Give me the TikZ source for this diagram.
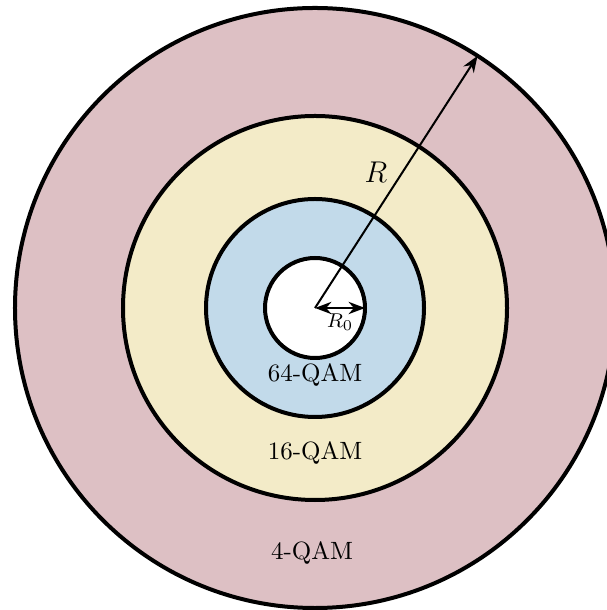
\documentclass[tikz,border=0pt]{standalone}
\usepackage{amsmath}
\usetikzlibrary{arrows.meta}
\definecolor{qamfour}{RGB}{221,192,196}
\definecolor{qamsixteen}{RGB}{243,235,200}
\definecolor{qamsixtyfour}{RGB}{194,218,234}

\begin{document}
\begin{tikzpicture}[x=0.4pt,y=0.4pt]
    \useasboundingbox (-315,-302) rectangle (291,308);
    \coordinate (O) at (0,0);
    % Rings, outer to inner
    \foreach \r/\col in {300/qamfour, 192/qamsixteen, 109/qamsixtyfour, 50/white} {
      \filldraw[fill=\col, draw=black, line width=1.6pt] (O) circle (\r);
    }
    % Radii
    \coordinate (Rend) at (57.2:300);
    \coordinate (Rzero) at (50,0);
    \draw[-{Stealth}, thick] (O) -- (Rend);
    \draw[{Stealth}-{Stealth}, thick] (O) -- (Rzero);
    % Labels
    \node (labR) at (61,136) {\large $R$};
    \node (labRzero) at (25,-14) {\footnotesize $R_0$};
    \node (lab64) at (0,-67) {64-QAM};
    \node (lab16) at (0,-145) {16-QAM};
    \node (lab4) at (-3,-245) {4-QAM};
  \end{tikzpicture}
\end{document}
